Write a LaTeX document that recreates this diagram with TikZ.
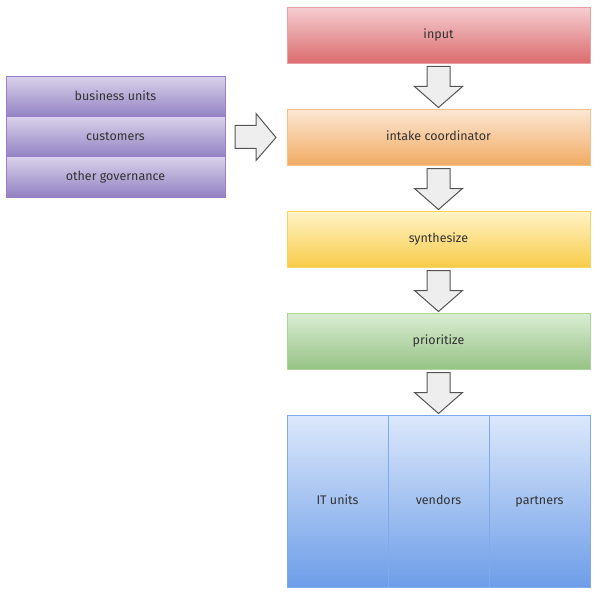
\documentclass[tikz,border=0pt]{standalone}
\usepackage{fontspec}
\setmainfont{Fira Sans}
\usetikzlibrary{positioning,calc}

\definecolor{redtop}{HTML}{F5CDD0}
\definecolor{redbot}{HTML}{DB6B6E}
\definecolor{redline}{HTML}{E8A0A3}
\definecolor{orangetop}{HTML}{FBE7D3}
\definecolor{orangebot}{HTML}{F1AA62}
\definecolor{orangeline}{HTML}{F7C08A}
\definecolor{yellowtop}{HTML}{FFF3C6}
\definecolor{yellowbot}{HTML}{F8CB48}
\definecolor{yellowline}{HTML}{F8D460}
\definecolor{greentop}{HTML}{DAEDD3}
\definecolor{greenbot}{HTML}{96C285}
\definecolor{greenline}{HTML}{A9D59B}
\definecolor{bluetop}{HTML}{DCE8FB}
\definecolor{bluebot}{HTML}{6D9DE8}
\definecolor{blueline}{HTML}{7FAAEE}
\definecolor{purpletop}{HTML}{D8D0EA}
\definecolor{purplebot}{HTML}{9282C2}
\definecolor{purpleline}{HTML}{9A7FCB}
\definecolor{arrowfill}{HTML}{EEEEEE}
\definecolor{arrowline}{HTML}{555555}
\definecolor{txt}{HTML}{333333}

\begin{document}
\begin{tikzpicture}[x=1pt, y=1pt,
    node distance=46pt,
    font=\fontsize{12.5}{14}\selectfont,
    any box/.style={rectangle, inner sep=0pt, outer sep=0pt, text=txt, line width=1pt,
        text height=9pt, text depth=2.5pt},
    step box/.style={any box, minimum width=303pt, minimum height=56pt},
    in box/.style={step box, draw=redline, top color=redtop, bottom color=redbot},
    intake box/.style={step box, draw=orangeline, top color=orangetop, bottom color=orangebot},
    synth box/.style={step box, draw=yellowline, top color=yellowtop, bottom color=yellowbot},
    prio box/.style={step box, draw=greenline, top color=greentop, bottom color=greenbot},
    party box/.style={any box, draw=blueline, top color=bluetop, bottom color=bluebot,
        minimum width=101pt, minimum height=172pt},
    source box/.style={any box, draw=purpleline, top color=purpletop, bottom color=purplebot,
        minimum width=219pt, minimum height=40pt},
    block arrow/.style={draw=arrowline, fill=arrowfill, line width=1pt, line join=miter}]

    % frame of the picture
    \useasboundingbox (0,0) rectangle (596,-596);

    % main column
    \node [in box] (input) at (438.5,-35.5) {input};
    \node [intake box, below=of input] (intake) {intake coordinator};
    \node [synth box, below=of intake] (synth) {synthesize};
    \node [prio box, below=of synth] (prio) {prioritize};

    % the three parties at the bottom
    \node [party box, below=46pt of prio.south west, anchor=north west] (itunits) {IT units};
    \node [party box, right=0pt of itunits] (vendors) {vendors};
    \node [party box, right=0pt of vendors] (partners) {partners};

    % sources on the left
    \node [source box] (business) at (115.5,-97) {business units};
    \node [source box, below=0pt of business] (customers) {customers};
    \node [source box, below=0pt of customers] (othergov) {other governance};

    % block arrows between the steps
    \foreach \from/\to in {input/intake, intake/synth, synth/prio, prio/vendors} {
        \coordinate (top) at ($(\from.south)+(0,-3)$);
        \draw [block arrow] ($(top)+(-11.5,0)$) -- ($(top)+(11.5,0)$)
            -- ($(top)+(11.5,-20)$) -- ($(top)+(24,-20)$)
            -- ($(\to.north)+(0,2)$) -- ($(top)+(-24,-20)$)
            -- ($(top)+(-11.5,-20)$) -- cycle;
    }

    % block arrow from the sources to the intake
    \coordinate (tail) at ($(customers.east)+(10,0)$);
    \draw [block arrow] ($(tail)+(0,11.5)$) -- ($(tail)+(21,11.5)$)
        -- ($(tail)+(21,23.5)$) -- ($(intake.west)+(-11,0)$)
        -- ($(tail)+(21,-23.5)$) -- ($(tail)+(21,-11.5)$)
        -- ($(tail)+(0,-11.5)$) -- cycle;

\end{tikzpicture}
\end{document}
